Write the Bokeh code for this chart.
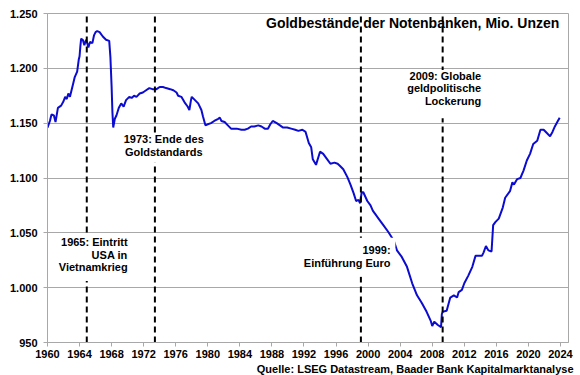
from bokeh.plotting import figure
from bokeh.models import Label, FixedTicker, Range1d, Title, BoxAnnotation
from bokeh.embed import file_html
from bokeh.resources import INLINE

# ---- data ----
years = [
    1960.0, 1960.3, 1960.5, 1960.8, 1961.0, 1961.3, 1961.7, 1962.0, 1962.2, 1962.4,
    1962.6, 1962.8, 1963.0, 1963.2, 1963.4, 1963.7, 1963.9, 1964.0, 1964.1, 1964.2,
    1964.4, 1964.6, 1964.8, 1965.0, 1965.1, 1965.3, 1965.6, 1965.8, 1966.0, 1966.2,
    1966.5, 1966.9, 1967.3, 1967.7, 1967.85, 1968.0, 1968.1, 1968.2, 1968.4, 1968.6,
    1968.9, 1969.2, 1969.5, 1969.8, 1970.2, 1970.5, 1970.8, 1971.1, 1971.5, 1971.9,
    1972.3, 1972.7, 1973.1, 1973.6, 1974.0, 1974.4, 1974.8, 1975.3, 1975.7, 1976.1,
    1976.3, 1976.7, 1977.1, 1977.5, 1977.7, 1977.9, 1978.0, 1978.4, 1978.8, 1979.2,
    1979.4, 1979.7, 1980.0, 1980.4, 1980.8, 1981.3, 1981.5, 1981.7, 1982.1, 1982.5,
    1982.9, 1983.6, 1984.2, 1984.6, 1985.0, 1985.4, 1985.8, 1986.3, 1986.7, 1987.1,
    1987.5, 1987.8, 1988.1, 1988.6, 1989.0, 1989.4, 1989.9, 1990.4, 1990.9, 1991.3,
    1991.8, 1992.2, 1992.6, 1992.9, 1993.1, 1993.5, 1994.0, 1994.4, 1994.9, 1995.3,
    1995.8, 1996.2, 1996.5, 1996.9, 1997.4, 1997.8, 1998.2, 1998.5, 1998.8, 1999.0,
    1999.2, 1999.4, 1999.9, 2000.3, 2000.6, 2000.9, 2001.3, 2001.9, 2002.5, 2003.2,
    2003.6, 2004.2, 2004.85, 2005.5, 2006.1, 2006.7, 2007.3, 2007.8, 2008.0, 2008.25,
    2008.7, 2009.1, 2009.2, 2009.3, 2009.8, 2010.25, 2010.7, 2011.1, 2011.3, 2011.7,
    2012.0, 2012.5, 2013.0, 2013.4, 2013.8, 2014.2, 2014.4, 2014.7, 2015.0, 2015.4,
    2015.6, 2015.9, 2016.3, 2016.8, 2017.1, 2017.7, 2018.0, 2018.2, 2018.6, 2019.0,
    2019.4, 2019.8, 2020.2, 2020.6, 2021.1, 2021.5, 2021.9, 2022.3, 2022.7, 2023.0,
    2023.3, 2023.6, 2023.9,
]
holdings = [
    1146, 1152, 1158, 1157, 1151, 1164, 1166, 1170, 1174, 1172,
    1177, 1174, 1180, 1186, 1192, 1197, 1208, 1211, 1220, 1227,
    1226, 1221, 1226, 1222, 1219, 1224, 1223, 1230, 1233, 1234,
    1233, 1229, 1226, 1225, 1210, 1183, 1160, 1146, 1154, 1157,
    1164, 1168, 1165, 1171, 1174, 1173, 1175, 1174, 1177, 1178,
    1180, 1182, 1181, 1181, 1183, 1183, 1182, 1181, 1180, 1178,
    1175, 1174, 1169, 1165, 1162, 1171, 1174, 1171, 1168, 1162,
    1156, 1148, 1149, 1150, 1152, 1154, 1155, 1152, 1151, 1148,
    1145, 1145, 1144, 1144, 1145, 1147, 1147, 1148, 1147, 1145,
    1145, 1149, 1152, 1150, 1148, 1146, 1146, 1145, 1144, 1143,
    1144, 1142, 1132, 1128, 1117, 1112, 1124, 1122, 1117, 1113,
    1114, 1113, 1111, 1108, 1101, 1094, 1086, 1079, 1080, 1077,
    1087, 1087, 1079, 1075, 1070, 1067, 1063, 1057, 1051, 1043,
    1034, 1028, 1019, 1004, 993, 986, 978, 970, 965, 969,
    966, 964, 976, 978, 979, 991, 993, 991, 996, 998,
    1004, 1011, 1019, 1029, 1029, 1029, 1032, 1038, 1034, 1033,
    1057, 1060, 1063, 1073, 1082, 1088, 1096, 1094, 1099, 1100,
    1107, 1116, 1122, 1131, 1134, 1144, 1144, 1141, 1138, 1142,
    1147, 1151, 1155,
]
x_ticks = [1960, 1964, 1968, 1972, 1976, 1980, 1984, 1988, 1992, 1996, 2000, 2004, 2008, 2012, 2016, 2020, 2024]
y_ticks = [950, 1000, 1050, 1100, 1150, 1200, 1250]
y_tick_labels = ["950", "1.000", "1.050", "1.100", "1.150", "1.200", "1.250"]
event_years = [1964.9, 1973.4, 1999.1, 2009.3]
event_texts = [
    "1965: Eintritt\nUSA in\nVietnamkrieg",
    "1973: Ende des\nGoldstandards",
    "1999:\nEinführung Euro",
    "2009: Globale\ngeldpolitische\nLockerung",
]
title_text = "Goldbestände der Notenbanken, Mio. Unzen"
source_text = "Quelle: LSEG Datastream, Baader Bank Kapitalmarktanalyse"

# ---- styling ----
FONT = "Liberation Sans"
GRID = "#a8a8a8"
Y_LO, Y_HI = 950, 1250

p = figure(width=580, height=375, output_backend="svg", toolbar_location=None,
           x_range=Range1d(1960, 2025), y_range=Range1d(Y_LO, Y_HI),
           min_border_left=47, min_border_right=12, min_border_top=13, min_border_bottom=33)
p.background_fill_color = "white"
p.border_fill_color = "white"
p.outline_line_color = GRID

p.xgrid.visible = False
p.ygrid.grid_line_color = GRID
p.ygrid.grid_line_width = 1

for ax in (p.xaxis[0], p.yaxis[0]):
    ax.axis_line_color = GRID
    ax.major_tick_line_color = GRID
    ax.major_tick_in = 0
    ax.major_tick_out = 4
    ax.minor_tick_line_color = None
    ax.major_label_text_font = FONT
    ax.major_label_text_font_size = "11px"
    ax.major_label_text_font_style = "bold"
    ax.major_label_text_color = "black"

p.xaxis.ticker = FixedTicker(ticks=x_ticks)
p.xaxis.major_label_standoff = 3
p.yaxis.ticker = FixedTicker(ticks=y_ticks)
p.yaxis.major_label_overrides = {t: s for t, s in zip(y_ticks, y_tick_labels)}
p.yaxis.major_label_standoff = 6

p.line(years, holdings, line_color="#0c0cd0", line_width=2)

n = len(event_years)
p.segment(x0=event_years, y0=[Y_LO] * n, x1=event_years, y1=[Y_HI] * n,
          line_color="black", line_width=2, line_dash="6 4")

# white boxes behind the annotation texts (layout only): left, right, bottom, top
boxes = [(1960.9, 1970.4, 1006.0, 1047.5),
         (1969.0, 1979.9, 1114.0, 1139.0),
         (1991.3, 2003.4, 1010.0, 1045.5),
         (2005.0, 2014.5, 1154.5, 1198.5)]
for l, r, b, t in boxes:
    p.add_layout(BoxAnnotation(left=l, right=r, bottom=b, top=t, fill_color="white",
                               fill_alpha=1.0, line_color=None, line_alpha=0))

# label anchors (layout only)
anchors = [(1970.0, 1047.0, "right"), (1974.5, 1141.0, "center"),
           (2002.8, 1039.5, "right"), (2014.1, 1198.8, "right")]
for (ax_, ay_, al), txt in zip(anchors, event_texts):
    p.add_layout(Label(x=ax_, y=ay_, text=txt, text_align=al, text_baseline="top",
                       text_font=FONT, text_font_size="11px", text_font_style="bold",
                       text_color="black", text_line_height=1.05))

p.add_layout(Label(x=2023.85, y=1241.5, text=title_text, text_align="right",
                   text_baseline="middle", text_font=FONT, text_font_size="14px",
                   text_font_style="bold", text_color="black"))

p.add_layout(Title(text=source_text, align="right", text_font=FONT,
                   text_font_size="11px", text_font_style="bold", text_color="black",
                   offset=-5, standoff=0), "below")

open("out.html", "w").write(file_html(p, INLINE))
